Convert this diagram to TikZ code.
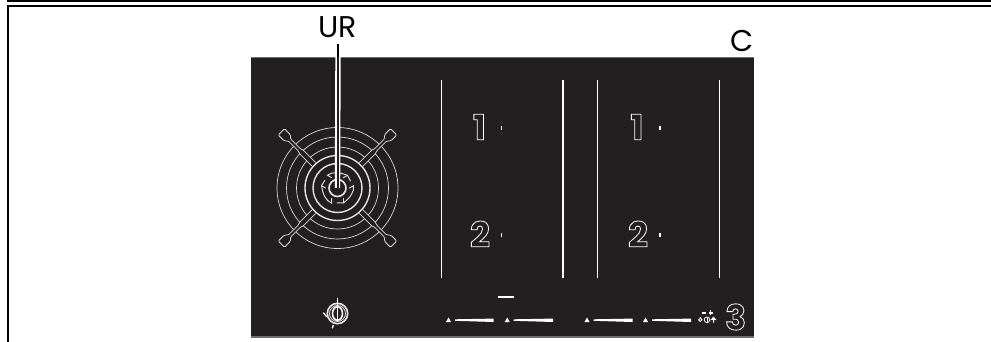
\documentclass[tikz,border=0pt]{standalone}
\usepackage{fontspec}
\setmainfont{Poppins}
\newfontfamily\digitfont{Poppins Bold}
\definecolor{panel}{HTML}{231F20}
\definecolor{edge}{HTML}{6E6E6E}
\newcommand{\outl}[1]{\special{pdf:code q 1 Tr 0.8 w 1 1 1 RG}#1\special{pdf:code Q}}
\tikzset{
  frame line/.style={black,line width=2pt},
  white line/.style={white,line width=1.6pt},
  ring/.style={draw=white!85!black,line width=0.7pt},
  ringb/.style={draw=white!90!black,line width=1.4pt},
  label/.style={font=\fontsize{30}{30}\selectfont,text=black,inner sep=0pt},
  digit/.style={font=\digitfont\fontsize{35}{35}\selectfont,text=white,inner sep=0pt},
  dotm/.style={white,line width=1.5pt},
  tri/.style={fill=white},
}
\begin{document}
\begin{tikzpicture}[x=1pt,y=-1pt]
\useasboundingbox (0,0) rectangle (991,342);
\fill[white] (0,0) rectangle (991,342);
\coordinate (tl) at (7,1); \coordinate (tr) at (991,1);
\coordinate (sl) at (7,6); \coordinate (sr) at (991,6);
\coordinate (bl) at (8,342);
\draw[frame line] (tl) -- (tr);
\draw[frame line] (sl) -- (sr);
\draw[frame line] (bl) -- (8,6);
% panel
\fill[panel] (251,57) rectangle (754,338);
\fill[edge] (251,57) rectangle (754,58.5);
\fill[edge] (251,336) rectangle (754,338);
% zone lines
\foreach \x in {441.5,563,597.5,719.5} \draw[white line] (\x,80) -- (\x,278);
% burner
\coordinate (bc) at (337.5,188);
\foreach \r in {60.5,51,41} \draw[ring] (bc) circle[radius=\r];
\foreach \r in {32.5,24.5} \draw[ringb] (bc) circle[radius=\r];
\draw[ringb,line width=1.6pt] (bc) circle[radius=8.5];
% grate arms
\foreach \a in {45,135,225,315}{
  \begin{scope}[shift={(bc)},rotate=\a]
    \fill[panel] (33.5,2.6) -- (51,2.6) -- (54,1.5) -- (68,1.5) -- (71,4.4) -- (79.4,4.4) -- (79.4,-4.4) -- (71,-4.4) -- (68,-1.5) -- (54,-1.5) -- (51,-2.6) -- (33.5,-2.6) -- cycle;
    \draw[ring,rounded corners=1.2pt,line width=0.8pt] (33.5,2.6) -- (51,2.6) -- (54,1.5) -- (68,1.5) -- (71,4.4) -- (79.4,4.4) -- (79.4,-4.4) -- (71,-4.4) -- (68,-1.5) -- (54,-1.5) -- (51,-2.6) -- (33.5,-2.6);
  \end{scope}
}
% clover
\foreach \a in {-90,30,150}{
  \begin{scope}[shift={(bc)},rotate=\a]
    \draw[ring,line width=1pt] (10,-6) -- (15,-6);
    \draw[ring,line width=1pt] (10,6) -- (15,6) .. controls (13,12) and (5,15) .. (-2.3,16) -- (-7.9,12.5);
  \end{scope}
}
% pointer
\coordinate (ptop) at (338,44);
\draw[white,line width=5.4pt] (338,57) -- (bc);
\draw[black!90!panel,line width=2.8pt] (ptop) -- (338,57);
\draw[panel,line width=2.6pt] (338,57) -- (338,188);
% labels
\node[label] (ur) at (337.5,27.5) {UR};
\node[label] (c) at (742,41) {C};
% digits
\node[digit] (d1a) at (479.5,127) {\outl{1}};
\node[digit] (d2a) at (480,234) {\outl{2}};
\node[digit] (d1b) at (637,127) {\outl{1}};
\node[digit] (d2b) at (638,234) {\outl{2}};
\node[digit] (d3) at (735.7,317) {\outl{3}};
% dots
\foreach \x in {501.7,660} \foreach \y in {128,235} \draw[dotm] (\x,\y-2) -- (\x,\y+2);
% knob
\coordinate (kc) at (337.5,313.5);
\draw[ringb,line width=1.6pt] (kc) circle[radius=10.2];
\draw[ringb,line width=0.8pt] (kc) circle[radius=8];
\draw[white,line width=1.5pt] (kc) ellipse[x radius=5,y radius=6.8];
\draw[white,line width=1.5pt] (337.5,297.5) -- (337.5,320);
\draw[white,line width=1.3pt] (323.3,312.7) -- (326.7,316.7);
\draw[white,line width=1.3pt] (333.3,325) -- (332.3,328.3);
% sliders
\foreach \x/\e in {455/493.5,513.7/553,593.5/632.5,652/691}{
  \fill[white] (\x,319.3) -- (\e,318.6) -- (\e,322) -- (\x,320.8) -- cycle;
  \fill[tri] (\x-9,322) -- (\x-6.5,317.5) -- (\x-4,322) -- cycle;
}
\fill[white] (498.3,295.7) rectangle (514,297.9);
% small symbols
\fill[white] (701.5,311.8) rectangle (705.5,313.5);
\fill[white] (708.7,311.8) rectangle (712.7,313.5);
\fill[white] (710,310.3) rectangle (711.4,315);
\draw[white,line width=0.9pt] (700.3,319.8) circle[radius=1.7];
\fill[white] (699.8,316.5) rectangle (700.8,318);
\draw[white,line width=0.8pt] (707,319.8) circle[radius=2.8];
\draw[white,line width=0.9pt] (707,317.5) -- (707,322);
\fill[white] (713.5,316.5) -- (716.5,320) -- (710.5,320) -- cycle;
\fill[white] (712.8,320) rectangle (714.2,323);
\end{tikzpicture}
\end{document}
